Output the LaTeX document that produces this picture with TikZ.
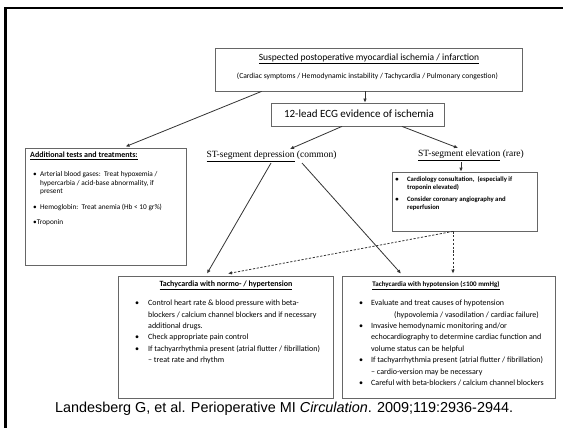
\documentclass[tikz,border=0pt]{standalone}
\usepackage{fontspec}
\setmainfont{Carlito}
\newfontfamily\serifnt{Liberation Serif}
\newfontfamily\arialnt{Liberation Sans}
\usetikzlibrary{arrows.meta,calc}
\definecolor{boxgray}{gray}{0.40}
\definecolor{linegray}{gray}{0.20}
\newcommand\myfs[1]{\fontsize{#1}{#1}\selectfont}
\tikzset{
  box/.style={draw=boxgray, line width=0.8pt, fill=white, inner sep=0pt, rectangle},
  conn/.style={draw=linegray, line width=0.8pt},
  arr/.style={conn, -{Latex[length=4pt,width=3.6pt]}},
  dsh/.style={arr, dash pattern=on 2.2pt off 1.6pt},
  txt/.style={inner sep=0pt, anchor=base west, text=black},
  ctxt/.style={inner sep=0pt, anchor=base, text=black},
  bul/.style={inner sep=0pt, anchor=base, text=black},
  body/.style={font=\myfs{8}},
  small/.style={font=\myfs{7.3}},
  tiny/.style={font=\myfs{6.7}\bfseries},
}
\begin{document}
\begin{tikzpicture}[x=1pt,y=-1pt]
\useasboundingbox (0,0) rectangle (563,428);
\fill[white] (0,0) rectangle (563,428);
% frame
\draw[line width=2.2pt, black] (5.5,428) -- (5.5,8.2) -- (563,8.2);

% boxes
\node[box, minimum width=307pt, minimum height=43pt] (topbox) at (368.5,69.5) {};
\node[box, minimum width=173pt, minimum height=23pt] (ecgbox) at (357.5,114.5) {};
\node[box, minimum width=161pt, minimum height=117pt] (addbox) at (105.5,206.5) {};
\node[box, minimum width=145pt, minimum height=59pt] (cardbox) at (464.5,201.5) {};
\node[box, minimum width=215pt, minimum height=122pt] (blbox) at (225.5,337) {};
\node[box, minimum width=213pt, minimum height=122pt] (brbox) at (448.5,337) {};

% top box text
\node[ctxt, font=\myfs{9.5}] (toptitle) at (369,60.2) {\underline{Suspected postoperative myocardial ischemia / infarction}};
\node[ctxt, font=\myfs{7.6}] (topsub) at (367.5,78.5) {(Cardiac symptoms / Hemodynamic instability / Tachycardia / Pulmonary congestion)};
% ECG
\node[ctxt, font=\myfs{11}] (ecgtext) at (359,117.7) {12-lead ECG evidence of ischemia};
% ST labels
\node[inner sep=1.5pt, font=\serifnt\myfs{9.5}] (stdep) at (271.5,156) {\underline{ST-segment depression} (common)};
\node[inner sep=1.5pt, font=\serifnt\myfs{9.5}] (stelev) at (471,155) {\underline{ST-segment elevation} (rare)};

% additional box text
\node[txt, font=\myfs{8}\bfseries] (addtitle) at (30,157.7) {\underline{Additional tests and treatments:}};
\node[bul, small] (ab1) at (35,176.4) {•};
\node[txt, small] (a1) at (40,176.4) {Arterial blood gases:\ \ Treat hypoxemia /};
\node[txt, small] (a2) at (40,185.4) {hypercarbia / acid-base abnormality, if};
\node[txt, small] (a3) at (40,193.6) {present};
\node[bul, small] (ab2) at (35,209.4) {•};
\node[txt, small] (a4) at (40,209.4) {Hemoglobin:\ \ Treat anemia (Hb < 10 gr\%)};
\node[txt, small] (a5) at (33,224.4) {•Troponin};

% cardiology box text
\node[bul, tiny] (cb1) at (397,181.2) {•};
\node[txt, tiny] (c1) at (407,181.2) {Cardiology consultation,\ \ (especially if};
\node[txt, tiny] (c2) at (407,189.4) {troponin elevated)};
\node[bul, tiny] (cb2) at (397,201.4) {•};
\node[txt, tiny] (c3) at (407,201.4) {Consider coronary angiography and};
\node[txt, tiny] (c4) at (407,209.6) {reperfusion};

% bottom-left box text
\node[ctxt, font=\myfs{8}\bfseries] (bltitle) at (226,286.6) {\underline{Tachycardia with normo- / hypertension}};
\node[bul, body] (lb1) at (137,305.6) {•};
\node[txt, body] (l1) at (148,305.6) {Control heart rate \& blood pressure with beta-};
\node[txt, body] (l2) at (148,317) {blockers / calcium channel blockers and if necessary};
\node[txt, body] (l3) at (148,328.4) {additional drugs.};
\node[bul, body] (lb2) at (137,339.8) {•};
\node[txt, body] (l4) at (148,339.8) {Check appropriate pain control};
\node[bul, body] (lb3) at (137,351.2) {•};
\node[txt, body] (l5) at (148,351.2) {If tachyarrhythmia present (atrial flutter / fibrillation)};
\node[txt, body] (l6) at (148,362.6) {– treat rate and rhythm};

% bottom-right box text
\node[ctxt, font=\myfs{7}\bfseries] (brtitle) at (436,286.4) {\underline{Tachycardia with hypotension (≤100 mmHg)}};
\node[bul, body] (rb1) at (361,305.6) {•};
\node[txt, body] (r1) at (371,305.6) {Evaluate and treat causes of hypotension};
\node[txt, body] (r2) at (394,317) {(hypovolemia / vasodilation / cardiac failure)};
\node[bul, body] (rb2) at (361,328.4) {•};
\node[txt, body] (r3) at (371,328.4) {Invasive hemodynamic monitoring and/or};
\node[txt, body] (r4) at (371,339.8) {echocardiography to determine cardiac function and};
\node[txt, body] (r5) at (371,351.2) {volume status can be helpful};
\node[bul, body] (rb3) at (361,362.6) {•};
\node[txt, body] (r6) at (371,362.6) {If tachyarrhythmia present (atrial flutter / fibrillation)};
\node[txt, body] (r7) at (371,374) {– cardio-version may be necessary};
\node[bul, body] (rb4) at (361,385.4) {•};
\node[txt, body] (r8) at (371,385.4) {Careful with beta-blockers / calcium channel blockers};

% citation
\node[txt, font=\arialnt\myfs{14.4}] (cite) at (55,412.5) {Landesberg G, et al. Perioperative MI \textit{Circulation}. 2009;119:2936-2944.};

% connectors
\draw[arr] ([xshift=7.5pt]ecgbox.north |- topbox.south) -- ([xshift=7.5pt]ecgbox.north);
\draw[arr] ([xshift=47pt]topbox.south west) -- ([xshift=101pt,yshift=1pt]addbox.north west);
\draw[arr] ([xshift=-15.5pt]ecgbox.south) -- ([xshift=18.5pt]stdep.north);
\draw[arr] ([xshift=44.5pt]ecgbox.south) -- ([xshift=-13pt]stelev.north);
\draw[arr] ([xshift=-10pt]stelev.south) -- ([xshift=-10pt]stelev.south |- cardbox.north);
\draw[arr] ([xshift=-0.5pt]stdep.south) -- ([xshift=-18.5pt,yshift=2pt]blbox.north);
\draw[arr] ([xshift=30.5pt]stdep.south) -- ([xshift=-47.5pt,yshift=2pt]brbox.north);
\draw[dsh] ([xshift=-11.5pt]cardbox.south) -- ([xshift=2.5pt,yshift=2pt]blbox.north);
\draw[dsh] ([xshift=-11.5pt]cardbox.south) -- ([xshift=-11.5pt,yshift=2pt]cardbox.south |- brbox.north);
\end{tikzpicture}
\end{document}
